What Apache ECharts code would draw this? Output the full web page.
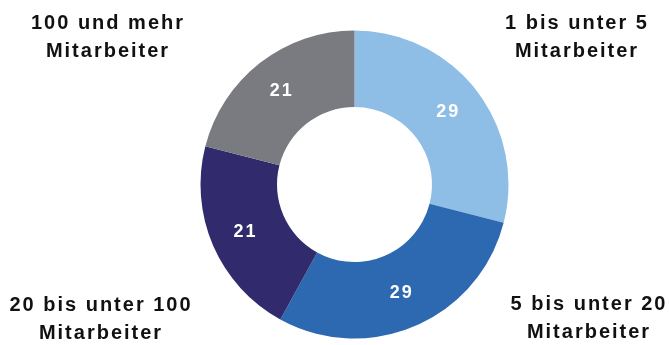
<!DOCTYPE html>
<html>
<head>
<meta charset="utf-8">
<script src="https://cdn.jsdelivr.net/npm/echarts@6/dist/echarts.min.js"></script>
<style>
  html, body { margin: 0; padding: 0; background: #fff; }
  #chart { width: 669px; height: 345px; }
</style>
</head>
<body>
<div id="chart"></div>
<script>
// Firm size classes and their shares (percent)
const categories = ['1 bis unter 5\nMitarbeiter', '5 bis unter 20\nMitarbeiter', '20 bis unter 100\nMitarbeiter', '100 und mehr\nMitarbeiter'];
const shares = [29, 29, 21, 21];
const colors = ['#8EBDE6', '#2D69B0', '#312B6D', '#7A7B80'];

// Where each category caption sits around the ring
const captionPos = [[577, 37], [589, 318], [101, 319], [108, 37]];

const chart = echarts.init(document.getElementById('chart'), null, { renderer: 'canvas' });

const labelFont = 'Arial';

function buildOption() {
  return {
    animation: false,
    backgroundColor: '#ffffff',
    series: [{
      type: 'pie',
      center: [354.5, 184.5],
      radius: [77.5, 154],
      startAngle: 90,
      clockwise: true,
      avoidLabelOverlap: false,
      itemStyle: { borderWidth: 0 },
      label: {
        show: true,
        position: 'inside',
        formatter: '{c}',
        color: '#ffffff',
        fontFamily: labelFont,
        fontWeight: 'bold',
        fontSize: 18
      },
      labelLine: { show: false },
      emphasis: { disabled: true },
      data: categories.map((name, i) => ({
        name,
        value: shares[i],
        itemStyle: { color: colors[i] }
      }))
    }],
    graphic: categories.map((name, i) => ({
      type: 'text',
      x: captionPos[i][0],
      y: captionPos[i][1],
      style: {
        text: name,
        fill: '#111111',
        fontFamily: labelFont,
        fontWeight: 'bold',
        fontSize: 20,
        align: 'center',
        verticalAlign: 'middle',
        lineHeight: 28
      }
    }))
  };
}

chart.setOption(buildOption());

// Slightly tracked-out lettering for all chart text, then repaint
document.querySelectorAll('#chart canvas').forEach(c => {
  const ctx = c.getContext('2d');
  if ('letterSpacing' in ctx) ctx.letterSpacing = '2px';
});
chart.setOption(buildOption(), true);
</script>
</body>
</html>
